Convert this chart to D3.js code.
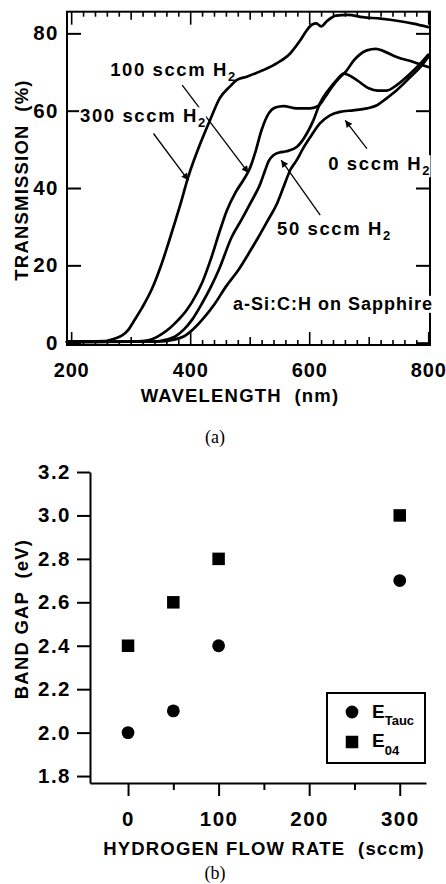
<!DOCTYPE html>
<html>
<head>
<meta charset="utf-8">
<script src="https://cdn.jsdelivr.net/npm/d3@7"></script>
<style>
  html, body { margin: 0; padding: 0; background: #fff; }
  svg { display: block; }
  text { font-family: "Liberation Sans", Arial, Helvetica, sans-serif; font-weight: bold; fill: #000; white-space: pre; }
  .tick-label { font-size: 20.5px; letter-spacing: 1.5px; }
  .tick-label-x { font-size: 20px; letter-spacing: 0.8px; }
  .axis-title { font-size: 18.5px; letter-spacing: 1.2px; }
  .note { font-size: 18.5px; letter-spacing: 1.6px; }
  .note-wide { font-size: 18px; letter-spacing: 1px; }
  .sub { font-size: 13px; letter-spacing: 0; }
  .panel-tag { font-family: "Liberation Serif", "Times New Roman", serif; font-weight: normal; font-size: 18px; }
</style>
</head>
<body>
<svg id="fig" width="446" height="884"></svg>
<script>
// ---- (a) Transmission spectra of a-Si:C:H on sapphire: wavelength (nm) / transmission (%) ----
const wl300 = [193, 230, 255, 265, 274, 285, 296, 305, 319, 336, 350, 366, 383, 397, 417, 434, 450, 467, 478, 495, 523, 546, 568, 585, 596, 605, 612, 620, 630, 645, 665, 690, 720, 750, 775, 800];
const tr300 = [0.3, 0.3, 0.4, 0.7, 1.1, 1.8, 3.3, 5.5, 9.0, 14.0, 19.5, 27.0, 35.5, 43.0, 51.5, 57.8, 63.3, 66.3, 67.9, 68.8, 70.5, 72.3, 74.8, 78.2, 80.8, 82.3, 82.6, 81.8, 83.2, 84.6, 84.8, 84.2, 83.8, 83.2, 82.5, 81.6];

const wl100 = [193, 300, 324, 338, 352, 366, 380, 392, 403, 420, 436, 450, 462, 476, 490, 500, 509, 520, 532, 543, 557, 579, 602, 616, 627, 638, 652, 661, 675, 697, 712, 725, 747, 775, 800];
const tr100 = [0.2, 0.3, 0.5, 1.0, 2.2, 3.8, 5.9, 8.0, 10.5, 15.5, 22.2, 29.0, 34.3, 38.8, 42.2, 45.0, 49.0, 55.0, 59.3, 60.8, 61.2, 60.6, 60.6, 61.3, 63.6, 66.1, 68.7, 70.0, 73.0, 75.6, 76.0, 75.4, 73.9, 72.6, 71.3];

const wl50 = [193, 340, 360, 375, 390, 403, 420, 435, 448, 470, 487, 501, 518, 526, 532, 540, 550, 562, 579, 596, 607, 618, 632, 646, 658, 680, 700, 715, 730, 747, 770, 787, 800];
const tr50 = [0.2, 0.3, 0.8, 1.6, 3.5, 5.9, 10.2, 14.5, 18.8, 27.4, 32.0, 36.0, 41.2, 44.6, 47.0, 48.5, 49.2, 49.5, 50.6, 54.1, 57.5, 61.9, 65.3, 67.9, 69.6, 67.9, 65.8, 65.2, 65.2, 66.6, 69.6, 72.2, 74.5];

const wl0 = [193, 350, 370, 389, 405, 420, 442, 460, 481, 500, 515, 530, 546, 557, 568, 579, 590, 602, 618, 635, 652, 674, 697, 714, 730, 747, 770, 787, 800];
const tr0 = [0.2, 0.3, 0.7, 1.6, 3.5, 5.9, 10.2, 14.5, 18.8, 23.5, 27.4, 31.5, 36.0, 40.3, 44.6, 47.2, 50.3, 53.2, 56.7, 58.8, 59.7, 60.1, 60.6, 61.4, 63.2, 65.3, 68.7, 71.3, 73.9];

const wlTicks = [200, 400, 600, 800];
const transTicks = [0, 20, 40, 60, 80];

// ---- (b) Optical gaps versus hydrogen flow ----
const flowRate = [0, 50, 100, 300];
const eTauc = [2.0, 2.1, 2.4, 2.7];
const e04 = [2.4, 2.6, 2.8, 3.0];
const flowTicks = [0, 100, 200, 300];
const gapTicks = [1.8, 2.0, 2.2, 2.4, 2.6, 2.8, 3.0, 3.2];

const svg = d3.select("#fig");

// arrowhead for annotation leaders
svg.append("defs").append("marker")
  .attr("id", "arrow")
  .attr("viewBox", "0 0 10 10")
  .attr("refX", 10).attr("refY", 5)
  .attr("markerUnits", "userSpaceOnUse")
  .attr("markerWidth", 10).attr("markerHeight", 7)
  .attr("orient", "auto")
  .append("path").attr("d", "M0,0 L10,5 L0,10 z").attr("fill", "#000");

function styleAxis(g, width) {
  g.attr("font-family", null).attr("font-size", null);
  g.selectAll(".tick line").attr("stroke", "#000").attr("stroke-width", width);
  g.selectAll(".domain").attr("stroke", "#000").attr("stroke-width", 2);
}

// ================= panel (a) =================
const x = d3.scaleLinear().domain([193, 803]).range([67, 430]);
const y = d3.scaleLinear().domain([-0.6, 85.6]).range([345, 11.7]);
const pa = svg.append("g");

const minorWl = d3.range(200, 801, 20).filter(v => v % 100 !== 0);
const midWl = [300, 500, 700];

// bottom and top ticks, all pointing into the plot
[[d3.axisBottom, 345], [d3.axisTop, 11.7]].forEach(([axisFn, yPos]) => {
  [[minorWl, 5], [midWl, 8], [wlTicks, 13]].forEach(([vals, len]) => {
    pa.append("g").attr("transform", `translate(0,${yPos})`)
      .call(axisFn(x).tickValues(vals).tickSize(-len).tickFormat(""))
      .call(g => g.select(".domain").remove())
      .call(g => styleAxis(g, 1.6));
  });
});

// x tick labels
pa.append("g").attr("transform", "translate(0,345)")
  .call(d3.axisBottom(x).tickValues(wlTicks).tickSize(0).tickPadding(18))
  .call(g => g.select(".domain").remove())
  .call(g => styleAxis(g, 0))
  .selectAll("text").attr("class", "tick-label-x");

// left ticks with labels, right ticks plain
pa.append("g").attr("transform", "translate(67,0)")
  .call(d3.axisLeft(y).tickValues(transTicks).tickSize(-14).tickPadding(8))
  .call(g => g.select(".domain").remove())
  .call(g => styleAxis(g, 2))
  .selectAll("text").attr("class", "tick-label");
pa.append("g").attr("transform", "translate(430,0)")
  .call(d3.axisRight(y).tickValues(transTicks).tickSize(-14).tickFormat(""))
  .call(g => g.select(".domain").remove())
  .call(g => styleAxis(g, 2));

// frame
pa.append("rect")
  .attr("x", x.range()[0]).attr("y", y.range()[1])
  .attr("width", x.range()[1] - x.range()[0])
  .attr("height", y.range()[0] - y.range()[1])
  .attr("fill", "none").attr("stroke", "#000").attr("stroke-width", 2);

// axis titles
pa.append("text").attr("class", "axis-title")
  .attr("x", 240).attr("y", 402).attr("text-anchor", "middle")
  .text("WAVELENGTH  (nm)");
pa.append("text").attr("class", "axis-title")
  .attr("transform", "translate(28,180) rotate(-90)").attr("text-anchor", "middle")
  .text("TRANSMISSION  (%)");

// annotation leaders (data coordinates: start -> tip)
const leaders = [
  { from: [386.6, 66.6], to: [498, 43.9] },   // 100 sccm
  { from: [338.3, 54.1], to: [397, 42.0] },   // 300 sccm
  { from: [618.5, 33.0], to: [553, 47.2] },   // 50 sccm
  { from: [697, 50.2], to: [660.5, 57.5] }    // 0 sccm
];
pa.selectAll("line.leader").data(leaders).join("line")
  .attr("class", "leader")
  .attr("x1", d => x(d.from[0])).attr("y1", d => y(d.from[1]))
  .attr("x2", d => x(d.to[0])).attr("y2", d => y(d.to[1]))
  .attr("stroke", "#000").attr("stroke-width", 1.3)
  .attr("marker-end", "url(#arrow)");

// curve labels (left edge, baseline in data coordinates)
const notes = [
  { text: "100 sccm H", sub: "2", at: [265.5, 68.9], bg: false, cls: "note" },
  { text: "300 sccm H", sub: "2", at: [215, 57.0], bg: true, cls: "note" },
  { text: "0 sccm H", sub: "2", at: [632, 44.6], bg: true, cls: "note" },
  { text: "50 sccm H", sub: "2", at: [546, 27.8], bg: true, cls: "note" },
  { text: "a-Si:C:H on Sapphire", sub: null, at: [472, 8.5], bg: true, cls: "note-wide" }
];
notes.forEach(n => {
  const g = pa.append("g");
  const t = g.append("text").attr("class", n.cls)
    .attr("x", x(n.at[0])).attr("y", y(n.at[1]));
  t.append("tspan").text(n.text);
  if (n.sub) t.append("tspan").attr("class", "sub").attr("dy", 5).text(n.sub);
  if (n.bg) {
    const b = t.node().getBBox();
    g.insert("rect", "text")
      .attr("x", b.x - 1).attr("y", b.y + 2)
      .attr("width", b.width + 2).attr("height", b.height - 3)
      .attr("fill", "#fff");
  }
});

// spectra
const line = d3.line().x(d => x(d[0])).y(d => y(d[1])).curve(d3.curveMonotoneX);
const spectra = [[wl300, tr300], [wl100, tr100], [wl50, tr50], [wl0, tr0]];
pa.selectAll("path.spectrum").data(spectra).join("path")
  .attr("class", "spectrum")
  .attr("d", d => line(d3.zip(d[0], d[1])))
  .attr("fill", "none").attr("stroke", "#000")
  .attr("stroke-width", 2.7).attr("stroke-linejoin", "round").attr("stroke-linecap", "round");

svg.append("text").attr("class", "panel-tag")
  .attr("x", 215).attr("y", 443).attr("text-anchor", "middle").text("(a)");

// ================= panel (b) =================
const xb = d3.scaleLinear().domain([-42, 329]).range([90, 426]);
const yb = d3.scaleLinear().domain([1.768, 3.2]).range([783, 472]);
const pb = svg.append("g");

pb.append("g").attr("transform", "translate(90,0)")
  .call(d3.axisLeft(yb).tickValues(gapTicks).tickSize(13).tickSizeOuter(0).tickPadding(6).tickFormat(d3.format(".1f")))
  .call(g => styleAxis(g, 2))
  .selectAll("text").attr("class", "tick-label");

pb.append("g").attr("transform", "translate(0,783)")
  .call(d3.axisBottom(xb).tickValues([50, 150, 250]).tickSize(7).tickSizeOuter(0).tickFormat(""))
  .call(g => g.select(".domain").remove())
  .call(g => styleAxis(g, 2));
pb.append("g").attr("transform", "translate(0,783)")
  .call(d3.axisBottom(xb).tickValues(flowTicks).tickSize(13).tickSizeOuter(0).tickPadding(15))
  .call(g => styleAxis(g, 2))
  .selectAll("text").attr("class", "tick-label");

pb.append("text").attr("class", "axis-title")
  .attr("x", 264).attr("y", 855).attr("text-anchor", "middle")
  .text("HYDROGEN FLOW RATE  (sccm)");
pb.append("text").attr("class", "axis-title")
  .attr("transform", "translate(28,619) rotate(-90)").attr("text-anchor", "middle")
  .text("BAND GAP  (eV)");

const side = 12.5, rad = 6.4;
pb.selectAll("rect.e04").data(d3.zip(flowRate, e04)).join("rect")
  .attr("class", "e04")
  .attr("x", d => xb(d[0]) - side / 2).attr("y", d => yb(d[1]) - side / 2)
  .attr("width", side).attr("height", side).attr("fill", "#000");
pb.selectAll("circle.etauc").data(d3.zip(flowRate, eTauc)).join("circle")
  .attr("class", "etauc")
  .attr("cx", d => xb(d[0])).attr("cy", d => yb(d[1])).attr("r", rad).attr("fill", "#000");

// legend
const lg = pb.append("g").attr("transform", "translate(327,693)");
lg.append("rect").attr("width", 98).attr("height", 70)
  .attr("fill", "#fff").attr("stroke", "#000").attr("stroke-width", 2);
lg.append("circle").attr("cx", 25).attr("cy", 19).attr("r", rad).attr("fill", "#000");
lg.append("rect").attr("x", 25 - side / 2).attr("y", 49 - side / 2)
  .attr("width", side).attr("height", side).attr("fill", "#000");
const l1 = lg.append("text").attr("x", 45).attr("y", 25).style("font-size", "19px");
l1.append("tspan").text("E");
l1.append("tspan").attr("dy", 7).style("font-size", "13px").text("Tauc");
const l2 = lg.append("text").attr("x", 45).attr("y", 54).style("font-size", "19px");
l2.append("tspan").text("E");
l2.append("tspan").attr("dy", 8).style("font-size", "13px").text("04");

svg.append("text").attr("class", "panel-tag")
  .attr("x", 215).attr("y", 879).attr("text-anchor", "middle").text("(b)");
</script>
</body>
</html>
